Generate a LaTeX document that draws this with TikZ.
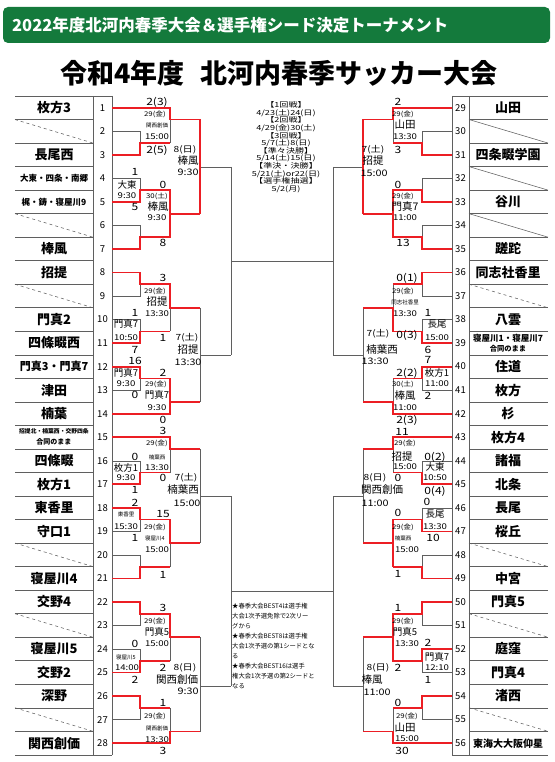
\documentclass[tikz,border=0pt]{standalone}
\usepackage{fontspec}
\setmainfont{Noto Sans CJK JP}
\newfontfamily\lblfont[FakeStretch=1.2]{Noto Sans CJK JP}
\newfontfamily\widefont[FakeStretch=1.3]{Noto Sans CJK JP}
\usetikzlibrary{positioning}
\definecolor{hdrgreen}{RGB}{20,122,60}
\definecolor{winred}{RGB}{236,30,36}
\definecolor{lngray}{RGB}{95,95,95}
\tikzset{
  ln/.style={draw=lngray,line width=0.55pt},
  win/.style={draw=winred,line width=1.7pt},
  team/.style={inner sep=0pt,font=\bfseries\fontsize{13}{13}\selectfont},
  teamsm/.style={inner sep=0pt,align=center,font=\bfseries\fontsize{8.5}{10}\selectfont},
  num/.style={inner sep=0pt,font=\fontsize{9.5}{9.5}\selectfont},
  sc/.style={inner sep=0pt,font=\lblfont\fontsize{10}{10}\selectfont},
  day/.style={inner sep=0pt,font=\lblfont\fontsize{6.5}{6.5}\selectfont},
  dayb/.style={inner sep=0pt,font=\lblfont\fontsize{8.5}{8.5}\selectfont},
  tm/.style={inner sep=0pt,font=\lblfont\fontsize{8}{8}\selectfont},
  tmb/.style={inner sep=0pt,font=\lblfont\fontsize{9}{9}\selectfont},
  ven/.style={inner sep=0pt,font=\fontsize{5.5}{5.5}\selectfont},
  venm/.style={inner sep=0pt,font=\fontsize{9.5}{9.5}\selectfont},
  venb/.style={inner sep=0pt,font=\fontsize{10.5}{10.5}\selectfont},
}
\begin{document}
\begin{tikzpicture}[x=1pt,y=-1pt]
\useasboundingbox (0,0) rectangle (554,762);

% header and title
\fill[hdrgreen,rounded corners=5pt] (3,7) rectangle (550,43);
\node[anchor=west,text=white,inner sep=0pt,font=\bfseries\fontsize{16.5}{16.5}\selectfont] (head) at (12,25) {2022年度北河内春季大会＆選手権シード決定トーナメント};
\node[inner sep=0pt,font=\bfseries\fontsize{27}{27}\selectfont] (title) at (279,73) {令和4年度\hspace{0.6em}北河内春季サッカー大会};

% team tables
\draw[ln] (15,96) -- (112,96) (15,754.8) -- (112,754.8) (93,96) -- (93,754.8) (112,96) -- (112,754.8);
\draw[ln] (452,96) -- (548,96) (452,754.8) -- (548,754.8) (452,96) -- (452,754.8) (469,96) -- (469,754.8);
\foreach \k in {1,...,27} {
  \draw[ln] (15,{96+\k*23.53}) -- (93,{96+\k*23.53});
  \draw[ln] (469,{96+\k*23.53}) -- (548,{96+\k*23.53});
}
\foreach \i in {2,6,9,20,23,27}
  \draw[ln,dashed] (15,{96+(\i-1)*23.53}) -- (93,{96+\i*23.53});
\foreach \i in {30,32,34}
  \draw[ln] (469,{96+(\i-29)*23.53}) -- (548,{96+(\i-28)*23.53});
\foreach \i in {37,48,51,55}
  \draw[ln,dashed] (469,{96+(\i-29)*23.53}) -- (548,{96+(\i-28)*23.53});
\foreach \i in {1,...,28}
  \node[num] (n\i) at (102.5,{96+(\i-0.5)*23.53}) {\i};
\foreach \i in {29,...,56}
  \node[num] (n\i) at (460.5,{96+(\i-28.5)*23.53}) {\i};
\foreach \i/\t in {1/枚方3,3/長尾西,7/棒風,8/招提,10/門真2,11/四條畷西,13/津田,14/楠葉,16/四條畷,17/枚方1,18/東香里,19/守口1,21/寝屋川4,22/交野4,24/寝屋川5,25/交野2,26/深野,28/関西創価}
  \node[team] (t\i) at (54,{96+(\i-0.5)*23.53}) {\t};
\foreach \i/\t in {29/山田,31/四条畷学園,33/谷川,35/蹉跎,36/同志社香里,38/八雲,40/住道,41/枚方,42/杉,43/枚方4,44/諸福,45/北条,46/長尾,47/桜丘,49/中宮,50/門真5,52/庭窪,53/門真4,54/渚西}
  \node[team] (t\i) at (508,{96+(\i-28.5)*23.53}) {\t};
\node[teamsm] (t4) at (54,178.4) {大東・四条・南郷};
\node[teamsm] (t5) at (54,201.9) {梶・鋳・寝屋川9};
\node[team,font=\bfseries\fontsize{11}{11}\selectfont] (t12) at (54,366.7) {門真3・門真7};
\node[teamsm,font=\bfseries\fontsize{5.8}{11}\selectfont] (t15) at (54,437.3) {招提北・楠葉西・交野四条\\ \fontsize{7}{7}\selectfont 合同のまま};
\node[teamsm] (t39) at (508,343.1) {寝屋川1・寝屋川7\\ \fontsize{7.3}{7.3}\selectfont 合同のまま};
\node[team,font=\bfseries\fontsize{10}{10}\selectfont] (t56) at (508,743.3) {東海大大阪仰星};

% left bracket
\draw[ln] (112,107.8) -| (170,143) (112,131.3) -| (140,154.8) -- (112,154.8) (140,143) -- (170,143) (170,119.5) -- (200,119.5)
  (112,178.4) -| (140,201.9) -- (112,201.9) (140,190.2) -- (170,190.2) (112,225.4) -| (140,249) -- (112,249) (140,237.2) -- (170,237.2)
  (170,190.2) -- (170,237.2) (170,213.7) -- (200,213.7) (200,119.5) -- (200,213.7) (200,167) -- (231,167);
\draw[ln] (112,272.5) -| (140,296) -- (112,296) (140,284.2) -- (170,284.2) (112,319.6) -| (140,343.1) -- (112,343.1) (140,331.4) -- (170,331.4)
  (170,284.2) -- (170,331.4) (170,307.8) -- (200,307.8) (112,366.7) -| (140,390.2) -- (112,390.2) (140,378.4) -- (170,378.4)
  (112,413.7) -| (170,378.4) (170,402) -- (200,402) (200,307.8) -- (200,402) (200,355) -- (231,355) (231,167) -- (231,355);
\draw[ln] (112,437.3) -| (170,472.6) (112,460.8) -| (140,484.3) -- (112,484.3) (140,472.6) -- (170,472.6) (170,449) -- (200,449)
  (112,507.9) -| (140,531.4) -- (112,531.4) (140,519.6) -- (170,519.6) (112,555) -| (140,578.5) -- (112,578.5) (140,566.8) -- (170,566.8)
  (170,519.6) -- (170,566.8) (170,543.2) -- (200,543.2) (200,449) -- (200,543.2) (200,496) -- (231,496);
\draw[ln] (112,602) -| (140,625.6) -- (112,625.6) (140,613.8) -- (170,613.8) (112,649.1) -| (140,672.6) -- (112,672.6) (140,660.9) -- (170,660.9)
  (170,613.8) -- (170,660.9) (170,637.3) -- (200,637.3) (112,696.2) -| (140,719.7) -- (112,719.7) (140,708) -- (170,708)
  (112,743.3) -| (170,708) (170,731.6) -- (200,731.6) (200,637.3) -- (200,731.6) (200,686) -- (231,686) (231,496) -- (231,686);

% right bracket
\draw[ln] (452,107.8) -| (393,143) (452,131.3) -| (422,154.8) -- (452,154.8) (422,143) -- (393,143) (393,119.5) -- (363,119.5)
  (452,178.4) -| (422,201.9) -- (452,201.9) (422,190.2) -- (393,190.2) (452,225.4) -| (422,249) -- (452,249) (422,237.2) -- (393,237.2)
  (393,190.2) -- (393,237.2) (393,213.7) -- (363,213.7) (363,119.5) -- (363,213.7) (363,167) -- (333,167);
\draw[ln] (452,272.5) -| (422,296) -- (452,296) (422,284.2) -- (393,284.2) (452,319.6) -| (422,343.1) -- (452,343.1) (422,331.4) -- (393,331.4)
  (393,284.2) -- (393,331.4) (393,307.8) -- (363,307.8) (452,366.7) -| (422,390.2) -- (452,390.2) (422,378.4) -- (393,378.4)
  (452,413.7) -| (393,378.4) (393,402) -- (363,402) (363,307.8) -- (363,402) (363,355) -- (333,355) (333,167) -- (333,355);
\draw[ln] (452,437.3) -| (393,472.6) (452,460.8) -| (422,484.3) -- (452,484.3) (422,472.6) -- (393,472.6) (393,449) -- (363,449)
  (452,507.9) -| (422,531.4) -- (452,531.4) (422,519.6) -- (393,519.6) (452,555) -| (422,578.5) -- (452,578.5) (422,566.8) -- (393,566.8)
  (393,519.6) -- (393,566.8) (393,543.2) -- (363,543.2) (363,449) -- (363,543.2) (363,496) -- (333,496);
\draw[ln] (452,602) -| (422,625.6) -- (452,625.6) (422,613.8) -- (393,613.8) (452,649.1) -| (422,672.6) -- (452,672.6) (422,660.9) -- (393,660.9)
  (393,613.8) -- (393,660.9) (393,637.3) -- (363,637.3) (452,696.2) -| (422,719.7) -- (452,719.7) (422,708) -- (393,708)
  (452,743.3) -| (393,708) (393,731.6) -- (363,731.6) (363,637.3) -- (363,731.6) (363,686) -- (333,686) (333,496) -- (333,686);

% semi-final lines
\draw[ln] (231,261) -- (333,261) (231,591) -- (333,591);

% winners
\draw[win] (112,107.8) -| (170,119.5) -- (200,119.5) -- (200,213.7);
\draw[win] (112,154.8) -| (140,143) -- (170,143);
\draw[win] (112,201.9) -| (140,190.2) -- (170,190.2) -- (170,213.7) -- (200,213.7);
\draw[win] (112,249) -| (140,237.2) -- (170,237.2) -- (170,213.7);
\draw[win] (112,272.5) -| (140,284.2) -- (170,284.2) -- (170,307.8) -- (200,307.8);
\draw[win] (112,343.1) -| (140,331.4) -- (170,331.4);
\draw[win] (112,366.7) -| (140,378.4) -- (170,378.4) -- (170,402) -- (200,402);
\draw[win] (112,413.7) -| (170,402);
\draw[win] (112,437.3) -| (170,449) -- (200,449);
\draw[win] (112,484.3) -| (140,472.6) -- (170,472.6);
\draw[win] (112,507.9) -| (140,519.6) -- (170,519.6) -- (170,543.2) -- (200,543.2);
\draw[win] (112,578.5) -| (140,566.8) -- (170,566.8);
\draw[win] (112,602) -| (140,613.8) -- (170,613.8) -- (170,637.3) -- (200,637.3);
\draw[win] (112,672.6) -| (140,660.9) -- (170,660.9);
\draw[win] (112,696.2) -| (140,708) -- (170,708);
\draw[win] (112,743.3) -| (170,731.6) -- (200,731.6);
\draw[win] (452,107.8) -| (393,119.5) -- (363,119.5) -- (363,213.7);
\draw[win] (452,154.8) -| (422,143) -- (393,143);
\draw[win] (452,201.9) -| (422,190.2) -- (393,190.2) -- (393,213.7) -- (363,213.7);
\draw[win] (452,249) -| (422,237.2) -- (393,237.2) -- (393,213.7);
\draw[win] (452,272.5) -| (422,284.2) -- (393,284.2);
\draw[win] (452,343.1) -| (422,331.4) -- (393,331.4) -- (393,307.8) -- (363,307.8);
\draw[win] (452,366.7) -| (422,378.4) -- (393,378.4);
\draw[win] (452,413.7) -| (393,402) -- (363,402);
\draw[win] (452,437.3) -| (393,449) -- (363,449);
\draw[win] (452,484.3) -| (422,472.6) -- (393,472.6);
\draw[win] (452,531.4) -| (422,519.6) -- (393,519.6) -- (393,566.8);
\draw[win] (452,578.5) -| (422,566.8) -- (393,566.8);
\draw[win] (393,543.2) -- (363,543.2);
\draw[win] (452,602) -| (422,613.8) -- (393,613.8) -- (393,637.3);
\draw[win] (452,649.1) -| (422,660.9) -- (393,660.9) -- (393,637.3) -- (363,637.3);
\draw[win] (452,696.2) -| (422,708) -- (393,708);
\draw[win] (452,743.3) -| (393,731.6) -- (363,731.6);

% left results
\node[sc] (l1) at (157,102) {2(3)};
\node[day] (l2) at (155,114) {29(金)};
\node[ven] (l3) at (157,125.5) {関西創価};
\node[tm] (l4) at (157,137) {15:00};
\node[sc] (l5) at (157,150) {2(5)};
\node[dayb] (l6) at (185,150) {8(日)};
\node[venb] (l7) at (188,161) {棒風};
\node[tmb] (l8) at (188,172) {9:30};
\node[sc] (l9) at (135,172) {1};
\node[venm] (l10) at (127,185) {大東};
\node[tm] (l11) at (127,196) {9:30};
\node[sc] (l12) at (163,185) {0};
\node[day] (l13) at (157,196) {30(土)};
\node[venb] (l14) at (158,207) {棒風};
\node[tm] (l15) at (157,218) {9:30};
\node[sc] (l16) at (135,207) {5};
\node[sc] (l17) at (163,243) {8};
\node[sc] (l18) at (163,278) {3};
\node[day] (l19) at (155,291) {29(金)};
\node[venb] (l20) at (157,302) {招提};
\node[tm] (l21) at (157,314) {13:30};
\node[sc] (l22) at (135,313) {1};
\node[venm] (l23) at (126,324) {門真7};
\node[tm] (l24) at (126,338) {10:50};
\node[sc] (l25) at (163,338) {1};
\node[dayb] (l26) at (187,338) {7(土)};
\node[venb] (l27) at (188,350) {招提};
\node[tmb] (l28) at (188,362) {13:30};
\node[sc] (l29) at (135,350) {7};
\node[sc] (l30) at (135,361) {16};
\node[venm] (l31) at (126,373) {門真7};
\node[tm] (l32) at (126,384) {9:30};
\node[sc] (l33) at (163,373) {2};
\node[day] (l34) at (156,384) {29(金)};
\node[sc] (l35) at (135,395) {0};
\node[venm] (l36) at (157,395) {門真7};
\node[tm] (l37) at (157,408) {9:30};
\node[sc] (l38) at (163,420) {0};
\node[sc] (l39) at (163,431) {3};
\node[day] (l40) at (157,443) {29(金)};
\node[sc] (l41) at (135,457) {0};
\node[ven] (l42) at (157,457) {楠葉西};
\node[venm] (l43) at (126,468) {枚方1};
\node[tm] (l44) at (157,468) {13:30};
\node[tm] (l45) at (126,478) {9:30};
\node[sc] (l46) at (163,478) {0};
\node[dayb] (l47) at (186,478) {7(土)};
\node[sc] (l48) at (135,490) {1};
\node[venb] (l49) at (183,490) {楠葉西};
\node[tmb] (l50) at (187,503) {15:00};
\node[sc] (l51) at (135,503) {2};
\node[ven] (l52) at (126,514) {東香里};
\node[sc] (l53) at (163,514) {15};
\node[tm] (l54) at (126,527) {15:30};
\node[day] (l55) at (155,527) {29(金)};
\node[sc] (l56) at (135,538) {1};
\node[ven] (l57) at (155,538) {寝屋川4};
\node[tm] (l58) at (157,550) {15:00};
\node[sc] (l59) at (163,575) {1};
\node[sc] (l60) at (163,608) {3};
\node[day] (l61) at (155,621) {29(金)};
\node[venm] (l62) at (157,632) {門真5};
\node[sc] (l63) at (135,644) {0};
\node[tm] (l64) at (157,644) {15:00};
\node[ven] (l65) at (126,657) {寝屋川5};
\node[tm] (l66) at (127,668) {14:00};
\node[sc] (l67) at (163,668) {2};
\node[dayb] (l68) at (185,668) {8(日)};
\node[sc] (l69) at (135,680) {2};
\node[venb] (l70) at (177,680) {関西創価};
\node[tmb] (l71) at (188,691) {9:30};
\node[sc] (l72) at (163,703) {1};
\node[day] (l73) at (155,716) {29(金)};
\node[ven] (l74) at (157,728) {関西創価};
\node[tm] (l75) at (157,740) {13:30};
\node[sc] (l76) at (163,751) {3};

% right results
\node[sc] (r1) at (398,102) {2};
\node[day] (r2) at (403,114) {29(金)};
\node[venb] (r3) at (405,125) {山田};
\node[tm] (r4) at (405,137) {13:30};
\node[dayb] (r5) at (373,150) {7(土)};
\node[sc] (r6) at (398,150) {3};
\node[venb] (r7) at (373,161) {招提};
\node[tmb] (r8) at (374,173) {15:00};
\node[sc] (r9) at (398,185) {0};
\node[day] (r10) at (403,196) {29(金)};
\node[venb] (r11) at (405,207) {門真7};
\node[tm] (r12) at (405,218) {11:00};
\node[sc] (r13) at (403,243) {13};
\node[sc] (r14) at (407,278) {0(1)};
\node[day] (r15) at (403,291) {29(金)};
\node[ven] (r16) at (405,302) {同志社香里};
\node[tm] (r17) at (405,314) {13:30};
\node[sc] (r18) at (428,313) {1};
\node[venm] (r19) at (437,324) {長尾};
\node[tm] (r20) at (437,338) {15:00};
\node[dayb] (r21) at (378,334) {7(土)};
\node[sc] (r22) at (407,335) {0(3)};
\node[venb] (r23) at (382,350) {楠葉西};
\node[sc] (r24) at (428,350) {6};
\node[tmb] (r25) at (375,361) {13:30};
\node[sc] (r26) at (428,360) {7};
\node[sc] (r27) at (407,373) {2(2)};
\node[venm] (r28) at (437,373) {枚方1};
\node[day] (r29) at (403,384) {30(土)};
\node[tm] (r30) at (437,384) {11:00};
\node[venb] (r31) at (405,396) {棒風};
\node[sc] (r32) at (428,396) {2};
\node[tm] (r33) at (405,408) {11:00};
\node[sc] (r34) at (407,420) {2(3)};
\node[sc] (r35) at (402,432) {11};
\node[day] (r36) at (405,443) {29(金)};
\node[venb] (r37) at (402,457) {招提};
\node[sc] (r38) at (435,457) {0(2)};
\node[tm] (r39) at (405,467) {15:00};
\node[venm] (r40) at (435,467) {大東};
\node[dayb] (r41) at (375,478) {8(日)};
\node[sc] (r42) at (398,478) {0};
\node[tm] (r43) at (435,478) {10:50};
\node[venb] (r44) at (382,490) {関西創価};
\node[sc] (r45) at (435,491) {0(4)};
\node[tmb] (r46) at (375,503) {11:00};
\node[sc] (r47) at (427,502) {0};
\node[sc] (r48) at (398,513) {0};
\node[venm] (r49) at (435,514) {長尾};
\node[day] (r50) at (403,527) {29(金)};
\node[tm] (r51) at (435,527) {13:30};
\node[ven] (r52) at (403,538) {楠葉西};
\node[sc] (r53) at (433,538) {10};
\node[tm] (r54) at (407,550) {15:00};
\node[sc] (r55) at (398,574) {1};
\node[sc] (r56) at (398,608) {1};
\node[day] (r57) at (403,621) {29(金)};
\node[venm] (r58) at (405,632) {門真5};
\node[tm] (r59) at (407,644) {13:30};
\node[sc] (r60) at (428,643) {2};
\node[venm] (r61) at (437,657) {門真7};
\node[tm] (r62) at (437,668) {12:10};
\node[dayb] (r63) at (378,668) {8(日)};
\node[sc] (r64) at (398,668) {2};
\node[venb] (r65) at (372,680) {棒風};
\node[sc] (r66) at (428,680) {1};
\node[tmb] (r67) at (377,692) {11:00};
\node[sc] (r68) at (398,703) {0};
\node[day] (r69) at (407,716) {29(金)};
\node[venb] (r70) at (405,728) {山田};
\node[tm] (r71) at (407,739) {15:00};
\node[sc] (r72) at (402,751) {30};

% schedule and notes
\node[anchor=north,align=center,inner sep=0pt,font=\widefont\fontsize{7}{7.6}\selectfont] (sched) at (286,101.5) {【1回戦】\\4/23(土)24(日)\\【2回戦】\\4/29(金)30(土)\\【3回戦】\\5/7(土)8(日)\\【準々決勝】\\5/14(土)15(日)\\【準決・決勝】\\5/21(土)or22(日)\\【選手権抽選】\\5/2(月)};
\node[anchor=north west,align=left,inner sep=0pt,font=\fontsize{6.3}{10}\selectfont] (notes) at (232,603) {★春季大会BEST4は選手権\\大会1次予選免除で2次リー\\グから\\★春季大会BEST8は選手権\\大会1次予選の第1シードとな\\る\\★春季大会BEST16は選手\\権大会1次予選の第2シードと\\なる};
\end{tikzpicture}
\end{document}
